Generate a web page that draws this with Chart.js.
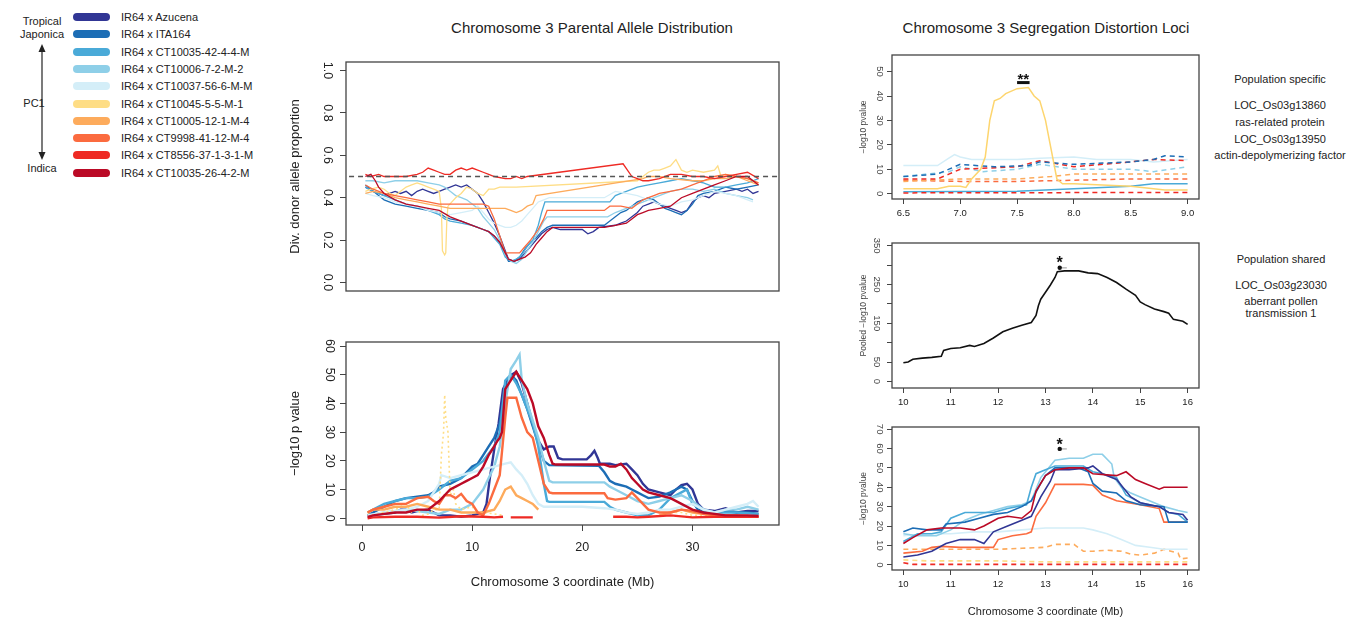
<!DOCTYPE html>
<html>
<head>
<meta charset="utf-8">
<script src="https://cdn.jsdelivr.net/npm/chart.js@4.4.1/dist/chart.umd.min.js"></script>
<style>
  body { margin: 0; background: #fff; width: 1347px; height: 619px; position: relative; overflow: hidden;
         font-family: "Liberation Sans", Arial, sans-serif; color: #222; }
  canvas { position: absolute; }
  .title { position: absolute; font-size: 15px; white-space: nowrap; transform: translate(-50%, -50%); }
  .row { position: absolute; left: 73px; height: 14px; display: flex; align-items: center; font-size: 11px; white-space: nowrap; transform: translateY(-50%); }
  .sw { width: 37px; height: 8px; border-radius: 4px; margin-right: 11px; }
  .note { position: absolute; font-size: 11px; white-space: nowrap; transform: translate(-50%, -50%); }
</style>
</head>
<body>

<div class="note" style="left:42px;top:21px">Tropical</div>
<div class="note" style="left:42px;top:34px">Japonica</div>
<div class="note" style="left:34px;top:103px">PC1</div>
<div class="note" style="left:42px;top:168px">Indica</div>
<svg style="position:absolute;left:36px;top:44px" width="12" height="116">
  <line x1="6" y1="4" x2="6" y2="112" stroke="#222" stroke-width="1.2"/>
  <path d="M6 0 L2.5 8 L9.5 8 Z" fill="#222"/>
  <path d="M6 116 L2.5 108 L9.5 108 Z" fill="#222"/>
</svg>
<div id="legend"></div>

<div class="title" style="left:592px;top:27px">Chromosome 3 Parental Allele Distribution</div>
<div class="title" style="left:1046px;top:27px">Chromosome 3 Segregation Distortion Loci</div>

<div class="note" style="left:1280px;top:79px">Population specific</div>
<div class="note" style="left:1280px;top:105px">LOC_Os03g13860</div>
<div class="note" style="left:1280px;top:122px">ras-related protein</div>
<div class="note" style="left:1280px;top:139px">LOC_Os03g13950</div>
<div class="note" style="left:1280px;top:155px">actin-depolymerizing factor</div>
<div class="note" style="left:1281px;top:259px">Population shared</div>
<div class="note" style="left:1281px;top:285px">LOC_Os03g23030</div>
<div class="note" style="left:1281px;top:301px">aberrant pollen</div>
<div class="note" style="left:1281px;top:313px">transmission 1</div>

<canvas id="allele" width="503" height="241" style="left:286px;top:56px"></canvas>
<canvas id="pval" width="503" height="256" style="left:286px;top:336px"></canvas>
<canvas id="specific" width="351" height="173" style="left:856px;top:50px"></canvas>
<canvas id="pooled" width="351" height="174" style="left:856px;top:238px"></canvas>
<canvas id="shared" width="351" height="197" style="left:856px;top:422px"></canvas>

<script>
const FONT = '"Liberation Sans", Arial, sans-serif';

const populations = ['IR64 x Azucena', 'IR64 x ITA164', 'IR64 x CT10035-42-4-4-M', 'IR64 x CT10006-7-2-M-2',
  'IR64 x CT10037-56-6-M-M', 'IR64 x CT10045-5-5-M-1', 'IR64 x CT10005-12-1-M-4', 'IR64 x CT9998-41-12-M-4',
  'IR64 x CT8556-37-1-3-1-M', 'IR64 x CT10035-26-4-2-M'];
const popColors = ['#313695', '#1c6db5', '#4aaad8', '#8ecfe8', '#d4eef8', '#fedd85', '#fdab5c', '#fb6b3f', '#ee2a24', '#bb0a26'];

// tick values / labels
const midXTicks = [0, 10, 20, 30];
const alleleYTicks = [0, 0.2, 0.4, 0.6, 0.8, 1.0];
const pvalYTicks = [0, 10, 20, 30, 40, 50, 60];
const specXTicks = [6.5, 7.0, 7.5, 8.0, 8.5, 9.0];
const specYTicks = [0, 10, 20, 30, 40, 50];
const zoomXTicks = [10, 11, 12, 13, 14, 15, 16];
const pooledYTicks = [0, 50, 100, 150, 200, 250, 300, 350];
const pooledYLabels = ['0', '50', '', '150', '', '250', '', '350'];
const sharedYTicks = [0, 10, 20, 30, 40, 50, 60, 70];

// donor allele proportion, [Mb, proportion]
const expectedRatio = [[-2, 0.5], [38, 0.5]];
const alleleAzucena = [[0.3,0.45],[1,0.43],[1.5,0.42],[2,0.41],[2.5,0.42],[3,0.43],[3.5,0.42],[4,0.43],[4.5,0.41],[5,0.43],[5.5,0.44],[6,0.43],[6.5,0.42],[7,0.43],[7.5,0.44],[8,0.45],[8.5,0.46],[9,0.45],[9.5,0.46],[10,0.44],[10.5,0.42],[11,0.38],[11.5,0.33],[12,0.28],[12.5,0.22],[13,0.15],[13.3,0.11],[13.8,0.1],[14.3,0.11],[14.8,0.14],[15.3,0.17],[15.8,0.2],[16.3,0.23],[16.8,0.25],[17.3,0.26],[18,0.25],[20,0.25],[20.5,0.23],[21,0.24],[21.5,0.26],[23,0.27],[23.5,0.28],[24,0.29],[24.5,0.31],[25,0.33],[25.5,0.36],[26,0.37],[26.5,0.38],[27,0.37],[27.5,0.36],[28,0.35],[28.5,0.34],[29,0.33],[29.5,0.34],[30,0.38],[30.5,0.4],[31,0.41],[31.5,0.4],[32,0.42],[33,0.43],[34,0.44],[34.5,0.43],[35,0.44],[35.5,0.42],[36,0.43]];
const alleleITA164 = [[0.3,0.46],[0.8,0.44],[1.5,0.41],[2,0.39],[3,0.37],[4,0.36],[5,0.35],[6,0.34],[7,0.33],[7.5,0.31],[8,0.3],[9,0.29],[10,0.27],[10.5,0.26],[11,0.25],[11.5,0.24],[12,0.22],[12.5,0.19],[13,0.13],[13.3,0.1],[13.8,0.1],[14.3,0.12],[14.8,0.16],[15.3,0.19],[15.8,0.21],[16.3,0.24],[16.8,0.26],[17.3,0.27],[22,0.27],[22.5,0.29],[23,0.31],[23.5,0.33],[24,0.34],[24.5,0.36],[25,0.38],[25.5,0.39],[26,0.4],[26.5,0.39],[27,0.37],[27.5,0.35],[28,0.34],[28.5,0.33],[29,0.32],[29.5,0.34],[30,0.37],[30.5,0.41],[31,0.42],[32,0.43],[33,0.45],[34,0.44],[35,0.45],[36,0.46]];
const alleleCT10035a = [[0.3,0.45],[1,0.43],[2,0.41],[3,0.39],[4,0.37],[5,0.36],[6,0.34],[7,0.32],[7.5,0.3],[8,0.29],[9,0.28],[10,0.27],[11,0.25],[11.5,0.24],[12,0.21],[12.5,0.18],[13,0.12],[13.5,0.1],[14,0.11],[14.5,0.13],[15,0.17],[15.5,0.2],[16,0.27],[16.3,0.33],[16.6,0.38],[22.5,0.38],[23,0.41],[23.5,0.42],[24,0.43],[25,0.45],[26,0.46],[27,0.47],[28,0.48],[29,0.49],[30,0.48],[31,0.47],[32,0.45],[33,0.45],[34,0.46],[35,0.47],[36,0.49]];
const alleleCT10006 = [[0.3,0.48],[1,0.48],[2,0.47],[3,0.48],[4,0.48],[5,0.48],[6,0.47],[7,0.46],[7.5,0.45],[8,0.43],[8.5,0.41],[9,0.4],[9.5,0.39],[10,0.37],[10.5,0.35],[11,0.31],[11.5,0.28],[12,0.25],[12.5,0.2],[13,0.13],[13.5,0.1],[14,0.09],[14.5,0.11],[15,0.15],[15.5,0.19],[16,0.24],[16.5,0.29],[16.8,0.31],[22.3,0.31],[23,0.33],[24,0.35],[25,0.37],[26,0.39],[27,0.41],[28,0.43],[29,0.44],[30,0.44],[31,0.43],[32,0.44],[33,0.42],[34,0.41],[35,0.4],[35.5,0.39]];
const alleleCT10037 = [[0.3,0.42],[1,0.41],[2,0.4],[3,0.38],[4,0.37],[5,0.36],[6,0.34],[7,0.33],[8,0.32],[9,0.33],[10,0.34],[10.5,0.36],[11,0.33],[11.5,0.3],[12,0.28],[12.5,0.27],[13,0.26],[13.5,0.26],[14,0.27],[14.5,0.29],[15,0.32],[15.5,0.35],[16,0.38],[16.5,0.39],[17,0.4],[22,0.4],[23,0.43],[24,0.42],[25,0.41],[26,0.39],[27,0.37],[28,0.36],[29,0.38],[30,0.39],[31,0.41],[32,0.43],[33,0.42],[34,0.41],[35,0.39],[35.5,0.38]];
const alleleCT10045 = [[0.3,0.43],[0.8,0.44],[1.5,0.45],[2,0.44],[2.5,0.42],[3,0.41],[3.5,0.43],[4,0.45],[4.5,0.46],[5,0.47],[5.5,0.46],[6,0.45],[6.5,0.44],[7,0.43],[7.2,0.35],[7.3,0.15],[7.5,0.13],[7.6,0.14],[7.7,0.3],[7.8,0.36],[8.5,0.4],[9,0.42],[9.5,0.45],[10,0.44],[10.5,0.42],[11,0.41],[11.5,0.44],[12,0.44],[12.5,0.45],[14,0.45],[25,0.48],[25.5,0.5],[26,0.52],[26.5,0.53],[27,0.53],[27.5,0.54],[28,0.55],[28.5,0.58],[28.8,0.55],[29,0.53],[29.5,0.52],[30,0.53],[31,0.52],[32,0.53],[32.3,0.55],[32.6,0.5],[33,0.51],[34,0.5],[35,0.49],[36,0.47]];
const alleleCT10005 = [[0.3,0.42],[1,0.43],[2,0.42],[3,0.4],[4,0.39],[5,0.38],[6,0.37],[7,0.36],[8,0.35],[13,0.35],[13.5,0.34],[14,0.33],[14.5,0.34],[15,0.36],[15.5,0.37],[15.8,0.41],[25.5,0.49],[26,0.5],[27,0.5],[28,0.49],[30,0.48],[31,0.48],[32,0.49],[33,0.49],[34,0.5],[35,0.48],[36,0.46]];
const alleleCT9998 = [[0.3,0.46],[1,0.44],[2,0.42],[3,0.41],[4,0.4],[5,0.39],[6,0.38],[7,0.37],[11,0.37],[11.5,0.36],[12,0.3],[12.5,0.22],[13,0.14],[14.3,0.14],[14.8,0.17],[15.3,0.2],[16,0.25],[16.5,0.3],[16.8,0.34],[22,0.34],[22.5,0.36],[23.5,0.36],[24.5,0.35],[25,0.37],[25.5,0.39],[26,0.4],[26.5,0.41],[27,0.42],[28,0.43],[29,0.44],[30,0.46],[31,0.48],[32,0.5],[33,0.51],[34,0.5],[35,0.49],[36,0.47]];
const alleleCT8556 = [[0.3,0.51],[0.8,0.5],[1.5,0.51],[2,0.5],[4,0.5],[5,0.51],[5.5,0.52],[6,0.54],[6.5,0.53],[7,0.52],[7.5,0.51],[8,0.51],[8.5,0.53],[9,0.54],[9.5,0.53],[10,0.54],[10.5,0.53],[11,0.52],[11.5,0.51],[12,0.5],[13,0.49],[13.5,0.49],[14,0.5],[14.5,0.49],[15,0.5],[23.7,0.56],[24.5,0.5],[25,0.49],[25.5,0.48],[26,0.48],[27,0.49],[28,0.51],[29,0.51],[30,0.5],[31,0.5],[32,0.49],[33,0.5],[34,0.51],[35,0.52],[36,0.49]];
const alleleCT10035b = [[0.3,0.5],[0.8,0.51],[1.2,0.48],[1.5,0.45],[2,0.42],[3,0.39],[4,0.37],[5,0.36],[6,0.35],[7,0.34],[8,0.31],[9,0.29],[10,0.27],[11,0.25],[11.5,0.24],[12,0.22],[12.5,0.19],[13,0.14],[13.3,0.11],[13.8,0.1],[14.3,0.11],[14.8,0.12],[15.3,0.14],[15.8,0.18],[16.3,0.21],[16.8,0.24],[17.3,0.26],[22,0.26],[23,0.27],[24,0.28],[24.5,0.3],[25,0.32],[25.5,0.33],[26,0.34],[27,0.35],[28,0.36],[28.5,0.38],[29,0.4],[30,0.42],[31,0.44],[32,0.46],[33,0.48],[34,0.5],[35,0.5],[36,0.46]];

// -log10 p value along chromosome 3, [Mb, value]
const pvalAzucena = [[0.5,1],[2,1.5],[3,2],[3.5,3],[4,3],[4.5,2],[5,2.5],[6,3],[6.5,2],[7,1],[8,1],[9,0.5],[10,1],[10.5,1.5],[11,2],[11.3,5],[11.6,14],[12,24],[12.4,33],[12.8,45],[13.2,48],[13.6,50],[14,51],[14.5,47],[15,40],[15.5,33],[16,27],[16.5,24],[17,25],[17.4,25],[17.8,21],[18.2,20.5],[20.4,20.5],[20.8,22],[21.1,23.5],[21.4,21],[21.6,19],[22.5,19],[23,18.5],[24,19],[24.5,17],[25,15],[25.5,12],[26,10],[27,9],[28,8],[28.5,10],[29,11.5],[29.5,12],[30,10],[30.5,5],[31,3],[32,2.5],[33,3.5],[34,2],[35,2.5],[36,2.5]];
const pvalITA164 = [[0.5,1],[1,2],[2,4],[3,6],[4,7],[5,7.5],[6,8],[6.5,9],[7,11],[8,12],[9,14],[10,18],[10.5,19],[11,22],[11.5,25],[12,28],[12.5,33],[13,45],[13.5,50],[14,48],[14.5,43],[15,38],[15.5,32],[16,26],[16.5,20],[17,18.5],[21.5,18.3],[22,16],[22.5,13],[23,12],[24,11],[24.5,10],[25,9],[25.5,8],[26,7],[27,7.5],[28,9],[28.5,10],[29,11],[29.5,10],[30,6],[30.5,3],[31,2.5],[32,2],[33,2.5],[34,2],[35,2],[36,1.5]];
const pvalCT10035a = [[0.5,2],[1,3],[2,5],[3,6],[4,7],[5,7],[6,7.5],[7,10],[8,13],[9,14],[10,17],[11,20],[12,25],[12.5,30],[13,48],[13.5,50],[14,47],[14.5,43],[15,38],[15.5,33],[16,25],[16.5,12],[16.8,6],[17,5.7],[22,5.7],[22.5,4],[23,3],[24,2],[24.5,1.5],[25,1],[26,1],[27,3],[28,7],[29,9],[29.5,10],[30,5],[31,3],[32,2],[34,2],[36,1.5]];
const pvalCT10006 = [[0.5,1],[2,2],[4,3],[6,2],[7,1.5],[8,3],[9,3],[10,5],[11,10],[11.5,14],[12,18],[12.5,25],[13,40],[13.5,52],[14,55],[14.3,57],[14.5,48],[15,40],[15.5,34],[16,28],[16.5,20],[17,13],[17.3,12.5],[22,12.5],[22.5,11],[23,10],[24,8],[25,6],[26,5],[27,6],[28,7],[29,8],[30,6],[31,3],[32,2],[33,3],[34,3],[35,4],[36,3]];
const pvalCT10037 = [[0.5,1],[2,2],[4,3],[5,4],[6,6],[7,12],[7.2,15],[8,14],[9,15],[10,16],[11,17],[12,18],[13,19],[13.5,19.5],[14,17],[14.5,15],[15,12],[15.5,8],[16,5],[16.5,4],[20,4],[22,3.5],[23,3],[24,2],[25,1.5],[26,2],[27,3],[28,3],[29,4],[30,5],[31,3],[32,2],[33,3],[34,4],[35,5],[35.5,6],[36,4]];
const pvalCT10045 = [[0.5,2],[1,1],[2,2],[3,3],[4,5],[4.5,2],[5,3],[5.5,1],[6,1.5],[6.5,3],[7,3],[7.2,22],[7.4,30],[7.5,43],[7.6,35],[7.8,30],[8,8],[8.3,10],[8.5,5],[9,3],[10,4],[10.5,2],[11,2],[12,1.5],[12.8,1],[12.9,null],[28,2],[29,2],[30,1],[32,1],[34,0.5],[36,0.5]];
const pvalCT10005 = [[0.5,2],[1,3],[2,3],[3,4],[4,4],[5,5],[6,4],[7,3],[8,3],[9,2],[11,2],[12,3],[12.5,6],[13,10],[13.5,11],[14,8],[14.5,7],[15,6],[15.5,5],[16,3],[16.3,null],[27,1],[28,2],[29,3],[30,2],[32,1],[34,1],[36,0.5]];
const pvalCT9998 = [[0.5,2],[1,3],[2,4],[3,5],[4,5],[5,7],[6,7.5],[6.5,6],[7,5],[7.5,8],[8,8],[8.5,7],[9,8.5],[9.5,6],[10,5],[10.5,2],[11,1],[11.5,5],[12,10],[12.5,15],[13,35],[13.2,42],[14,42],[14.5,35],[15,30],[15.5,28],[16,20],[16.5,12],[17,9],[17.3,8.7],[22,8.7],[22.3,7],[23,6.5],[24,7],[24.5,9],[25,7],[25.5,5],[26,3],[27,2],[28,2],[29,3],[30,2.5],[31,1.5],[33,1],[36,0.5]];
const pvalCT8556 = [[0.5,0],[1,0.3],[3,0.5],[5,0.5],[7,0.2],[9,0.7],[11,0.5],[12,0.3],[12.8,0.5],[13.1,null],[13.5,0.3],[15.5,0.3],[15.6,null],[22.8,0.5],[24,0.5],[25,0.3],[26,0.5],[28,1],[30,0.3],[32,0.5],[36,0.5]];
const pvalCT10035b = [[0.5,0.5],[1,1],[2,1.5],[3,2],[4,2],[5,3],[6,3],[7,6],[7.5,8],[8,10],[8.5,11],[9,12],[9.5,13],[10,14],[10.5,15],[11,18],[11.5,22],[12,25],[12.3,27],[12.5,28],[12.7,30],[13,45],[13.5,48],[14,51],[14.5,48],[15,45],[15.5,40],[16,32],[16.5,28],[17,22],[17.3,19],[17.6,18.7],[22,18.7],[22.5,18],[23,18],[23.5,19],[24,17],[24.5,14],[25,12],[25.5,10],[26,9],[27,8],[28,7],[29,5],[30,3],[31,2],[32,1.5],[33,1],[35,1],[36,0.8]];

// population specific locus, 6.5-9.0 Mb
const specCT10045 = [[6.5,2],[6.8,2],[6.9,3],[7.0,3],[7.05,2.5],[7.1,6],[7.18,10],[7.22,15],[7.26,30],[7.3,38],[7.35,39],[7.4,41],[7.45,42],[7.5,43],[7.6,43.5],[7.65,40],[7.7,38],[7.75,30],[7.8,18],[7.85,6],[7.9,4],[8.0,4],[8.5,3],[8.7,2],[8.8,1.5],[9.0,1.5]];
const specCT10037 = [[6.5,11.5],[6.8,11.5],[6.9,14.5],[6.95,16],[7.0,15],[7.1,14],[7.5,14],[7.7,14.5],[8.0,15],[8.2,14],[8.5,14],[8.7,13],[9.0,14]];
const specCT10035a = [[6.5,0.8],[7.5,1],[8.0,2],[8.5,3],[8.7,4],[9.0,4]];
const specITA164 = [[6.5,7],[6.8,8],[7.0,12],[7.3,11],[7.6,11.5],[7.7,13],[8.0,12],[8.5,13],[8.7,14],[8.8,15.5],[9.0,15]];
const specCT10006 = [[6.5,7],[6.9,9],[7.0,11],[7.2,9],[7.5,10],[7.7,12],[8.0,10],[8.5,10],[8.7,9],[9.0,11]];
const specCT10035b = [[6.5,6],[6.8,6],[6.9,8],[7.0,10],[7.5,11],[7.7,13.5],[8.0,11],[8.5,13],[8.7,14],[9.0,13.5]];
const specCT10005 = [[6.5,5],[7.0,6],[7.5,6],[7.8,7],[8.0,8],[9.0,8]];
const specCT9998 = [[6.5,5.5],[7.0,5],[7.5,5],[8.0,5.5],[8.5,6],[9.0,6]];
const specCT8556 = [[6.5,0.3],[9.0,0.5]];
const specBar = [[7.5,45.5],[7.61,45.5]];
const specStars = [7.555, 48.5];

// pooled, 10-16 Mb
const pooledValues = [[10.0,48],[10.1,50],[10.2,57],[10.4,60],[10.6,62],[10.8,65],[10.85,80],[11.0,85],[11.2,87],[11.4,93],[11.5,90],[11.7,98],[11.9,112],[12.1,128],[12.3,137],[12.5,145],[12.7,152],[12.8,170],[12.85,195],[12.9,212],[13.0,230],[13.1,248],[13.2,268],[13.25,283],[13.4,285],[13.7,285],[13.9,280],[14.1,278],[14.3,268],[14.5,255],[14.7,238],[14.9,222],[15.0,205],[15.1,198],[15.3,187],[15.5,180],[15.6,176],[15.7,160],[15.9,155],[16.0,147]];
const pooledPeak = [[13.3,293]];
const pooledSpan = [[13.3,293],[13.45,293]];
const pooledStar = [13.3, 314];

// shared locus by population, 10-16 Mb
const sharedAzucena = [[10.0,4],[10.3,5],[10.6,7],[10.9,11],[11.2,13],[11.5,13],[11.7,11],[11.9,17],[12.2,20],[12.5,23],[12.7,25],[12.9,35],[13.1,43],[13.2,49],[13.5,49],[13.9,50],[14.0,51],[14.2,47],[14.5,44],[14.8,35],[15.0,32],[15.4,30],[15.6,27],[15.9,26],[16.0,23]];
const sharedITA164 = [[10.0,17],[10.2,19],[10.5,18],[10.8,18],[10.9,21],[11.3,22],[11.6,24],[11.9,26],[12.2,27],[12.5,30],[12.7,33],[12.9,42],[13.0,46],[13.2,50],[13.7,50],[13.9,48],[14.0,42],[14.2,38],[14.5,37],[14.7,33],[15.0,31],[15.5,30],[15.6,22],[16.0,22]];
const sharedCT10035a = [[10.0,12],[10.3,16],[10.6,16],[10.8,17],[11.0,24],[11.3,27],[11.9,27],[12.2,29],[12.6,31],[12.7,40],[12.8,47],[13.0,49],[13.2,51],[13.8,51],[14.0,48],[14.2,47],[14.5,45],[14.7,36],[15.0,32],[15.4,30],[15.6,27],[15.8,26],[16.0,22]];
const sharedCT10006 = [[10.0,16],[10.3,15],[10.7,15],[11.0,18],[11.3,23],[11.6,26],[11.9,28],[12.2,30],[12.5,31],[12.7,33],[12.9,45],[13.1,51],[13.2,54],[13.5,55],[13.8,55],[14.0,57],[14.2,57],[14.4,52],[14.45,45],[14.6,40],[14.8,37],[15.0,35],[15.5,30],[15.8,28],[16.0,27]];
const sharedCT10037 = [[10.0,15],[10.5,16],[11.0,16],[11.5,17],[12.0,17],[12.5,18],[13.0,19],[13.8,19],[14.0,18],[14.3,16],[14.6,13],[14.9,10],[15.2,9],[15.5,8],[16.0,8]];
const sharedCT10045 = [[10.0,2.5],[10.5,2],[12.0,2],[13.0,1.5],[16.0,1.5]];
const sharedCT10005 = [[10.0,8],[12.0,8],[12.5,8.5],[13.0,9],[13.2,10.5],[13.6,10.5],[13.8,7],[14.0,7],[14.3,7.5],[14.6,7],[14.8,5.5],[15.0,5],[15.3,6],[15.5,8],[15.8,6],[15.85,3],[16.0,3.5]];
const sharedCT9998 = [[10.0,6],[10.4,7],[10.6,9],[10.8,9.5],[11.2,9],[11.9,9],[12.0,13],[12.3,15],[12.6,16],[12.7,17],[12.8,25],[13.0,32],[13.2,41.5],[13.8,41.5],[14.0,41],[14.2,36],[14.5,33],[15.0,31],[15.4,29],[15.5,22],[16.0,22]];
const sharedCT8556 = [[10.0,1],[10.2,0.2],[16.0,0.2]];
const sharedCT10035b = [[10.0,11],[10.2,14],[10.5,18],[10.8,19],[11.2,19],[11.5,18],[11.7,20],[12.0,24],[12.2,25],[12.5,24],[12.7,28],[12.8,38],[13.0,46],[13.2,49],[13.5,50],[13.8,50],[14.0,47],[14.5,46],[14.7,48],[14.9,44],[15.1,42],[15.4,39],[15.5,40],[16.0,40]];
const sharedPeak = [[13.3,59.8]];
const sharedSpan = [[13.3,59.8],[13.45,59.8]];
const sharedStar = [13.3, 64];

// ---- legend ----
const legendEl = document.getElementById('legend');
populations.forEach((name, i) => {
  const row = document.createElement('div');
  row.className = 'row';
  row.style.top = (17 + i * 17.3) + 'px';
  row.innerHTML = `<div class="sw" style="background:${popColors[i]}"></div><span>${name}</span>`;
  legendEl.appendChild(row);
});

// ---- helpers ----
const pts = a => a.map(([x, y]) => ({ x, y }));

const boxPlugin = {
  id: 'box',
  afterDraw(chart) {
    const { ctx, chartArea: a } = chart;
    ctx.save();
    ctx.strokeStyle = '#444';
    ctx.lineWidth = 1.3;
    ctx.strokeRect(a.left, a.top, a.right - a.left, a.bottom - a.top);
    ctx.restore();
  }
};

const starPlugin = {
  id: 'stars',
  afterDatasetsDraw(chart, args, opts) {
    if (!opts || !opts.text) return;
    const { ctx, scales } = chart;
    const px = scales.x.getPixelForValue(opts.at[0]);
    const py = scales.y.getPixelForValue(opts.at[1]);
    ctx.save();
    ctx.font = `bold ${opts.size}px ${FONT}`;
    ctx.fillStyle = '#111';
    ctx.textAlign = 'center';
    ctx.textBaseline = 'alphabetic';
    ctx.fillText(opts.text, px, py + opts.size * 0.55);
    ctx.restore();
  }
};

function noPad(s) { s.paddingTop = 0; s.paddingBottom = 0; s.paddingLeft = 0; s.paddingRight = 0; }

function yScale(o) {
  return {
    type: 'linear', min: o.min, max: o.max,
    afterBuildTicks: s => { s.ticks = o.ticks.map(v => ({ value: v })); },
    afterFit: s => { s.width = o.width; noPad(s); },
    ticks: {
      autoSkip: false, minRotation: -90, maxRotation: -90, crossAlign: 'center', padding: o.pad,
      color: o.color || '#222', font: { family: FONT, size: o.size },
      callback: (v, i) => o.labels ? o.labels[i] : o.fmt(o.ticks[i])
    },
    grid: { drawOnChartArea: false, drawTicks: true, tickLength: o.tl, color: '#444', lineWidth: 1 },
    border: { display: false },
    title: { display: true, text: o.title, color: o.color || '#222', font: { family: FONT, size: o.titleSize },
             padding: { top: o.titlePad, bottom: 0 } }
  };
}

function xScale(o) {
  return {
    type: 'linear', min: o.min, max: o.max, display: o.display !== false,
    afterBuildTicks: s => { s.ticks = o.ticks.map(v => ({ value: v })); },
    afterFit: s => { s.height = o.height; noPad(s); },
    ticks: {
      autoSkip: false, maxRotation: 0, minRotation: 0, padding: o.pad,
      color: '#222', font: { family: FONT, size: o.size },
      callback: (v, i) => o.fmt(o.ticks[i])
    },
    grid: { drawOnChartArea: false, drawTicks: true, tickLength: o.tl, color: '#444', lineWidth: 1 },
    border: { display: false },
    title: { display: !!o.title, text: o.title || '', color: '#222', font: { family: FONT, size: o.titleSize || 12 },
             padding: { top: 0, bottom: o.titlePad || 0 } }
  };
}

function lineDs(data, color, width, dash, order) {
  return {
    data: pts(data), borderColor: color, backgroundColor: color, borderWidth: width,
    borderDash: dash || [], pointRadius: 0, tension: 0, fill: false, spanGaps: false, order: order || 0
  };
}

function baseOptions(padding, scales, stars) {
  return {
    responsive: false, animation: false, devicePixelRatio: 1,
    layout: { autoPadding: false, padding },
    plugins: { legend: { display: false }, tooltip: { enabled: false }, stars: stars || {} },
    scales
  };
}

// ---- allele proportion panel ----
const alleleSeries = [alleleAzucena, alleleITA164, alleleCT10035a, alleleCT10006, alleleCT10037,
  alleleCT10045, alleleCT10005, alleleCT9998, alleleCT8556, alleleCT10035b];
new Chart(document.getElementById('allele'), {
  type: 'line',
  data: {
    datasets: [lineDs(expectedRatio, '#555', 1.6, [5, 4], -1)]
      .concat(alleleSeries.map((s, i) => lineDs(s, popColors[i], 1.3, null, 10 - i)))
  },
  options: baseOptions({ top: 6, right: 10, bottom: 6, left: 0 }, {
    x: xScale({ min: -1.46, max: 37.86, ticks: midXTicks, display: false, height: 0, tl: 6, pad: 10, size: 12.5, fmt: v => String(v) }),
    y: yScale({ min: -0.04, max: 1.04, ticks: alleleYTicks, fmt: v => v.toFixed(1), width: 60, pad: 4, tl: 6, size: 12.5,
                title: 'Div. donor allele proportion', titleSize: 13, titlePad: 2 })
  }),
  plugins: [boxPlugin]
});

// ---- p value panel ----
const pvalSeries = [pvalAzucena, pvalITA164, pvalCT10035a, pvalCT10006, pvalCT10037,
  pvalCT10045, pvalCT10005, pvalCT9998, pvalCT8556, pvalCT10035b];
new Chart(document.getElementById('pval'), {
  type: 'line',
  data: { datasets: pvalSeries.map((s, i) => lineDs(s, popColors[i], i === 5 ? 1.6 : 2.4, i === 5 ? [2, 3] : null, 10 - i)) },
  options: baseOptions({ top: 6, right: 10, bottom: 0, left: 0 }, {
    x: xScale({ min: -1.46, max: 37.86, ticks: midXTicks, height: 67, tl: 6, pad: 9, size: 12.5, fmt: v => String(v),
                title: 'Chromosome 3 coordinate (Mb)', titleSize: 13, titlePad: 2 }),
    y: yScale({ min: -2.36, max: 61.4, ticks: pvalYTicks, fmt: v => String(v), width: 60, pad: 4, tl: 6, size: 12.5,
                title: '\u2212log10 p value', titleSize: 13, titlePad: 2 })
  }),
  plugins: [boxPlugin]
});

// ---- population specific locus ----
const specSeries = [
  { d: specCT10037, c: popColors[4], dash: null },
  { d: specCT10035a, c: popColors[2], dash: null },
  { d: specCT9998, c: popColors[7], dash: [5, 4] },
  { d: specCT10005, c: popColors[6], dash: [5, 4] },
  { d: specCT10006, c: popColors[3], dash: [5, 4] },
  { d: specCT10035b, c: popColors[8], dash: [5, 4] },
  { d: specITA164, c: popColors[1], dash: [5, 4] },
  { d: specCT8556, c: popColors[8], dash: [5, 4] },
  { d: specCT10045, c: '#fdd56e', dash: null }
];
new Chart(document.getElementById('specific'), {
  type: 'line',
  data: {
    datasets: specSeries.map((s, i) => lineDs(s.d, s.c, 1.5, s.dash, 20 - i))
      .concat([lineDs(specBar, '#111', 3, null, 0)])
  },
  options: baseOptions({ top: 5, right: 8, bottom: 0, left: 0 }, {
    x: xScale({ min: 6.4, max: 9.1, ticks: specXTicks, height: 24, tl: 5, pad: 4, size: 9.5, fmt: v => v.toFixed(1) }),
    y: yScale({ min: -2.2, max: 56.8, ticks: specYTicks, fmt: v => String(v), width: 36, pad: 2, tl: 5, size: 9.5,
                title: '\u2212log10 pvalue', titleSize: 8.5, titlePad: 3, color: '#444' })
  }, { text: '**', at: specStars, size: 15 }),
  plugins: [boxPlugin, starPlugin]
});

// ---- pooled ----
new Chart(document.getElementById('pooled'), {
  type: 'line',
  data: {
    datasets: [
      lineDs(pooledValues, '#111', 1.6, null, 2),
      lineDs(pooledSpan, '#bbb', 1.5, null, 1),
      Object.assign(lineDs(pooledPeak, '#111', 1, null, 0), { pointRadius: 2.2, pointBorderWidth: 0 })
    ]
  },
  options: baseOptions({ top: 5, right: 8, bottom: 0, left: 0 }, {
    x: xScale({ min: 9.76, max: 16.24, ticks: zoomXTicks, height: 24, tl: 5, pad: 4, size: 9.5, fmt: v => String(v) }),
    y: yScale({ min: -17, max: 357, ticks: pooledYTicks, labels: pooledYLabels, width: 36, pad: 2, tl: 5, size: 9.5,
                title: 'Pooled \u2212log10 pvalue', titleSize: 8.5, titlePad: 3, color: '#444' })
  }, { text: '*', at: pooledStar, size: 16 }),
  plugins: [boxPlugin, starPlugin]
});

// ---- shared locus by population ----
const sharedSeries = [
  { d: sharedCT8556, c: popColors[8], dash: [5, 4] },
  { d: sharedCT10045, c: popColors[5], dash: [5, 4] },
  { d: sharedCT10005, c: popColors[6], dash: [5, 4] },
  { d: sharedCT10037, c: popColors[4], dash: null },
  { d: sharedCT9998, c: popColors[7], dash: null },
  { d: sharedCT10006, c: popColors[3], dash: null },
  { d: sharedCT10035a, c: popColors[2], dash: null },
  { d: sharedITA164, c: popColors[1], dash: null },
  { d: sharedAzucena, c: popColors[0], dash: null },
  { d: sharedCT10035b, c: popColors[9], dash: null }
];
new Chart(document.getElementById('shared'), {
  type: 'line',
  data: {
    datasets: sharedSeries.map((s, i) => lineDs(s.d, s.c, 1.6, s.dash, 20 - i)).concat([
      lineDs(sharedSpan, '#bbb', 1.5, null, 1),
      Object.assign(lineDs(sharedPeak, '#111', 1, null, 0), { pointRadius: 2.2, pointBorderWidth: 0 })
    ])
  },
  options: baseOptions({ top: 5, right: 8, bottom: 0, left: 0 }, {
    x: xScale({ min: 9.76, max: 16.24, ticks: zoomXTicks, height: 49, tl: 5, pad: 4, size: 9.5, fmt: v => String(v),
                title: 'Chromosome 3 coordinate (Mb)', titleSize: 11, titlePad: 0 }),
    y: yScale({ min: -2.7, max: 71.1, ticks: sharedYTicks, fmt: v => String(v), width: 36, pad: 2, tl: 5, size: 9.5,
                title: '\u2212log10 pvalue', titleSize: 8.5, titlePad: 3, color: '#444' })
  }, { text: '*', at: sharedStar, size: 16 }),
  plugins: [boxPlugin, starPlugin]
});
</script>
</body>
</html>
